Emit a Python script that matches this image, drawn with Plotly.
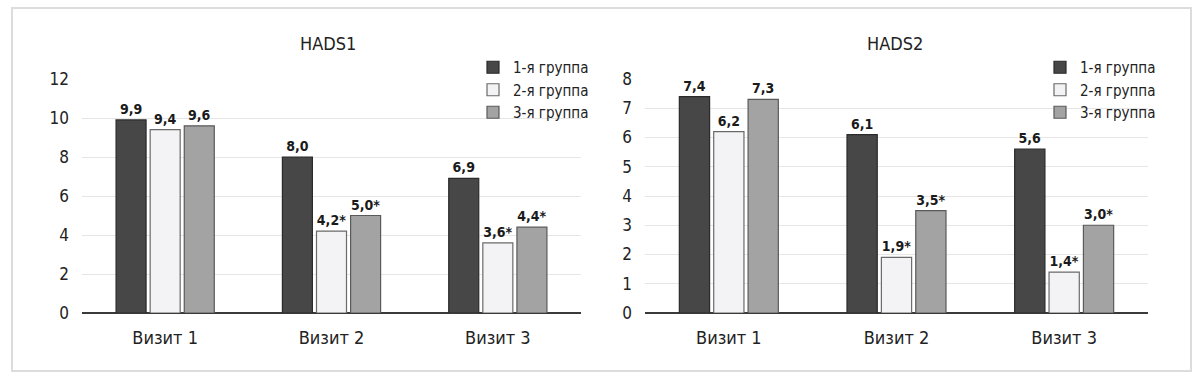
import plotly.graph_objects as go

visits = ["Визит 1", "Визит 2", "Визит 3"]
groups = ["1-я группа", "2-я группа", "3-я группа"]

hads1_g1 = [9.9, 8.0, 6.9]
hads1_g2 = [9.4, 4.2, 3.6]
hads1_g3 = [9.6, 5.0, 4.4]

hads2_g1 = [7.4, 6.1, 5.6]
hads2_g2 = [6.2, 1.9, 1.4]
hads2_g3 = [7.3, 3.5, 3.0]

# significance markers (*) per group and visit
sig_g1 = [False, False, False]
sig_g2 = [False, True, True]
sig_g3 = [False, True, True]

hads1_ticks = [0, 2, 4, 6, 8, 10, 12]
hads2_ticks = [0, 1, 2, 3, 4, 5, 6, 7, 8]

fills = ["#474747", "#f3f3f5", "#a3a3a3"]
outlines = ["#2a2a2a", "#6a6a6a", "#5a5a5a"]

FONT = "DejaVu Sans Condensed, Roboto, Open Sans, sans-serif"


def fmt(vals, sig):
    return [f"{v:.1f}".replace(".", ",") + ("*" if s else "") for v, s in zip(vals, sig)]


fig = go.Figure()

panels = [
    ("x", "y", "legend", [hads1_g1, hads1_g2, hads1_g3]),
    ("x2", "y2", "legend2", [hads2_g1, hads2_g2, hads2_g3]),
]
sigs = [sig_g1, sig_g2, sig_g3]

for xa, ya, lg, series in panels:
    for i, (name, vals) in enumerate(zip(groups, series)):
        fig.add_trace(go.Bar(
            x=visits, y=vals, name=name,
            xaxis=xa, yaxis=ya, legend=lg,
            marker=dict(color=fills[i], line=dict(color=outlines[i], width=1.2)),
            text=fmt(vals, sigs[i]), textposition="outside",
            textfont=dict(family=FONT, size=14, color="#1a1a1a", weight="bold"),
            cliponaxis=False,
        ))

ydom = [1 - 313 / 376, 1 - 79 / 376]
axis_common = dict(
    showgrid=True, gridcolor="#e6e6e6", gridwidth=1,
    zeroline=True, zerolinecolor="#3a3a3a", zerolinewidth=2,
    showline=False, ticks="", ticklabelstandoff=12, automargin=False,
    tickfont=dict(family=FONT, size=17, color="#222"),
)

fig.update_layout(
    width=1200, height=376,
    margin=dict(l=0, r=0, t=0, b=0, autoexpand=False),
    paper_bgcolor="white", plot_bgcolor="white",
    barmode="group", bargap=0.385, bargroupgap=0.12,
    showlegend=True,
    xaxis=dict(domain=[82 / 1200, 581 / 1200], anchor="y", showgrid=False, ticks="",
               automargin=False, ticklabelstandoff=12,
               tickfont=dict(family=FONT, size=18, color="#222")),
    xaxis2=dict(domain=[645 / 1200, 1148 / 1200], anchor="y2", showgrid=False, ticks="",
                automargin=False, ticklabelstandoff=12,
                tickfont=dict(family=FONT, size=18, color="#222")),
    yaxis=dict(domain=ydom, anchor="x", range=[0, 12], tickvals=hads1_ticks, **axis_common),
    yaxis2=dict(domain=ydom, anchor="x2", range=[0, 8], tickvals=hads2_ticks, **axis_common),
    legend=dict(x=473 / 1200, xanchor="left", y=1 - 51 / 376, yanchor="top",
                font=dict(family=FONT, size=15, color="#222"), bgcolor="rgba(0,0,0,0)",
                tracegroupgap=0),
    legend2=dict(x=1040 / 1200, xanchor="left", y=1 - 51 / 376, yanchor="top",
                 font=dict(family=FONT, size=15, color="#222"), bgcolor="rgba(0,0,0,0)",
                 tracegroupgap=0),
    annotations=[
        dict(text="HADS1", x=328 / 1200, y=1 - 43 / 376, xref="paper", yref="paper",
             xanchor="center", yanchor="middle", showarrow=False,
             font=dict(family=FONT, size=18, color="#222")),
        dict(text="HADS2", x=895 / 1200, y=1 - 43 / 376, xref="paper", yref="paper",
             xanchor="center", yanchor="middle", showarrow=False,
             font=dict(family=FONT, size=18, color="#222")),
    ],
    shapes=[
        dict(type="rect", xref="paper", yref="paper",
             x0=12 / 1200, x1=1191 / 1200, y0=1 - 371 / 376, y1=1 - 8 / 376,
             line=dict(color="#dcdcdc", width=2), fillcolor="rgba(0,0,0,0)", layer="below"),
    ],
)

fig.write_html(
    "out.html",
    config={"displayModeBar": False},
    post_script="document.body.style.margin='0';document.body.style.overflow='hidden';",
)
